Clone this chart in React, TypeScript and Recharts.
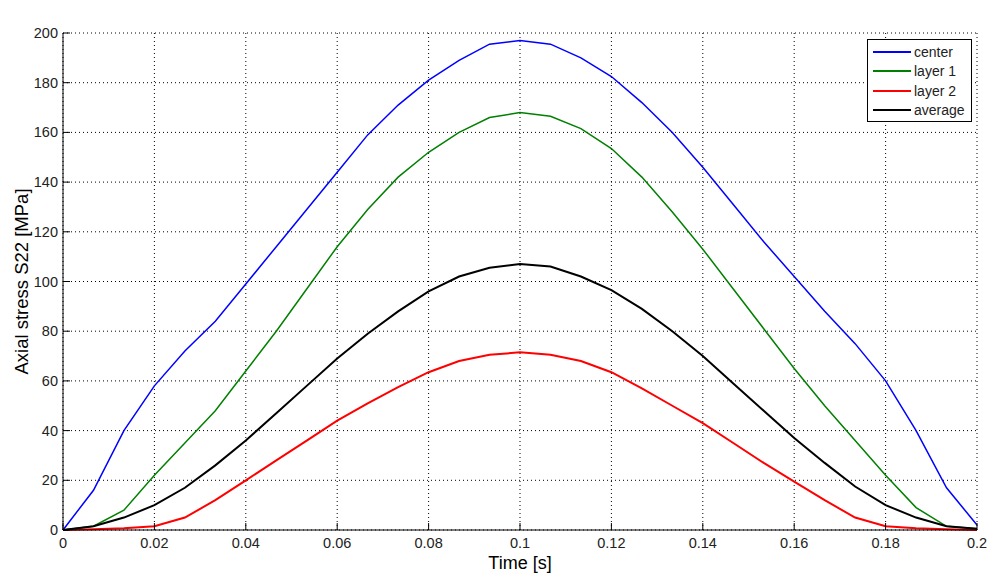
import React from 'react';
import { LineChart, Line, XAxis, YAxis, CartesianGrid, Label } from 'recharts';

const time = [0, 0.00667, 0.01333, 0.02, 0.02667, 0.03333, 0.04, 0.04667, 0.05333, 0.06, 0.06667, 0.07333, 0.08, 0.08667, 0.09333, 0.1, 0.10667, 0.11333, 0.12, 0.12667, 0.13333, 0.14, 0.14667, 0.15333, 0.16, 0.16667, 0.17333, 0.18, 0.18667, 0.19333, 0.2];
const center = [0, 16, 40, 58, 72, 84, 99, 114, 129, 144, 159, 171, 181, 189, 195.5, 197, 195.5, 190, 182.5, 172, 160, 146, 131, 116, 102, 88, 75, 60, 40, 17, 2];
const layer1 = [0, 1.5, 8, 22, 35, 48, 64, 80, 97, 114, 129, 142, 152, 160, 166, 168, 166.5, 161.5, 153.5, 142, 128, 113, 97, 81, 65, 50, 36, 22, 9, 1.5, 0.5];
const layer2 = [0, 0.3, 0.7, 1.5, 5, 12, 20, 28, 36, 44, 51, 57.5, 63.5, 68, 70.5, 71.5, 70.5, 68, 63.5, 57, 50, 43, 35, 27, 19.5, 12, 5, 1.5, 0.7, 0.3, 0];
const average = [0, 1.5, 5, 10, 17, 26, 36, 47, 58, 69, 79, 88, 96, 102, 105.5, 107, 106, 102, 96.5, 89, 80, 70, 59, 48, 37, 27, 17.5, 10, 5, 1.5, 0.5];

const xTicks = [0, 0.02, 0.04, 0.06, 0.08, 0.1, 0.12, 0.14, 0.16, 0.18, 0.2];
const yTicks = [0, 20, 40, 60, 80, 100, 120, 140, 160, 180, 200];

const seriesNames = ['center', 'layer 1', 'layer 2', 'average'];
const seriesColors = ['#0000ff', '#008000', '#ff0000', '#000000'];
const seriesWidths = [1.5, 1.5, 2, 2];
const seriesKeys = ['center', 'layer1', 'layer2', 'average'];

const data = time.map((t, i) => ({
  t,
  center: center[i],
  layer1: layer1[i],
  layer2: layer2[i],
  average: average[i],
}));

const FONT = '"Liberation Sans", Arial, Helvetica, sans-serif';
const TICK_LEN = 7;
const TM = 5;

const XTick = (props: any) => {
  const { x, y, payload } = props;
  const axisY = y - TM;
  return (
    <g>
      <line x1={x} x2={x} y1={axisY} y2={axisY - TICK_LEN} stroke="#000" strokeWidth={1} />
      <text x={x} y={y} dy={13} textAnchor="middle" fontSize={14.5} fill="#222" fontFamily={FONT}>
        {String(payload.value)}
      </text>
    </g>
  );
};

const YTick = (props: any) => {
  const { x, y, payload } = props;
  const axisX = x + TM;
  return (
    <g>
      <line x1={axisX} x2={axisX + TICK_LEN} y1={y} y2={y} stroke="#000" strokeWidth={1} />
      <text x={x} y={y} dy={5} textAnchor="end" fontSize={14.5} fill="#222" fontFamily={FONT}>
        {String(payload.value)}
      </text>
    </g>
  );
};

const LegendBox = () => (
  <div
    style={{
      position: 'absolute',
      left: 867,
      top: 39,
      width: 105,
      height: 83,
      boxSizing: 'border-box',
      border: '1px solid #000',
      background: '#fff',
      padding: '2px 0 0 5px',
      fontFamily: FONT,
      fontSize: 14,
      color: '#222',
    }}
  >
    {seriesNames.map((n, i) => (
      <div key={n} style={{ display: 'flex', alignItems: 'center', height: 19.5 }}>
        <span
          style={{
            display: 'inline-block',
            width: 38,
            height: 0,
            borderTop: `2px solid ${seriesColors[i]}`,
            marginRight: 3,
          }}
        />
        <span>{n}</span>
      </div>
    ))}
  </div>
);

export default function App() {
  return (
    <div style={{ position: 'absolute', left: 0, top: 0, width: 987, height: 574, background: '#fff' }}>
      <LineChart
        width={987}
        height={574}
        data={data}
        margin={{ top: 33, right: 10, bottom: 0, left: 0 }}
        style={{ fontFamily: FONT }}
      >
        <CartesianGrid stroke="#000" strokeDasharray="1 3" strokeWidth={1} horizontalValues={yTicks} verticalValues={xTicks} />
        <XAxis
          dataKey="t"
          type="number"
          domain={[0, 0.2]}
          ticks={xTicks}
          interval={0}
          height={44}
          tickLine={false}
          tickSize={0}
          tickMargin={TM}
          tick={<XTick />}
          axisLine={{ stroke: '#000', strokeWidth: 1 }}
        >
          <Label value="Time [s]" position="insideBottom" offset={5} style={{ fontSize: 18, fill: '#000', fontFamily: FONT }} />
        </XAxis>
        <XAxis
          xAxisId="top"
          dataKey="t"
          type="number"
          orientation="top"
          domain={[0, 0.2]}
          ticks={xTicks}
          interval={0}
          mirror
          height={0}
          tickSize={TICK_LEN}
          tickFormatter={() => ''}
          tickLine={{ stroke: '#000' }}
          axisLine={{ stroke: '#000', strokeWidth: 1 }}
        >
          <Label value="Axial stress" position="top" offset={11} style={{ fontSize: 17, fill: '#000', fontFamily: FONT }} />
        </XAxis>
        <YAxis
          type="number"
          domain={[0, 200]}
          ticks={yTicks}
          interval={0}
          width={63}
          tickLine={false}
          tickSize={0}
          tickMargin={TM}
          tick={<YTick />}
          axisLine={{ stroke: '#000', strokeWidth: 1 }}
        >
          <Label
            value="Axial stress S22 [MPa]"
            angle={-90}
            position="insideLeft"
            offset={21}
            style={{ fontSize: 18.5, fill: '#000', fontFamily: FONT, textAnchor: 'middle' }}
          />
        </YAxis>
        <YAxis
          yAxisId="right"
          type="number"
          orientation="right"
          domain={[0, 200]}
          ticks={yTicks}
          interval={0}
          mirror
          width={0}
          tickSize={TICK_LEN}
          tickFormatter={() => ''}
          tickLine={{ stroke: '#000' }}
          axisLine={{ stroke: '#000', strokeWidth: 1 }}
        />
        {seriesKeys.map((k, i) => (
          <Line
            key={k}
            type="linear"
            dataKey={k}
            name={seriesNames[i]}
            stroke={seriesColors[i]}
            strokeWidth={seriesWidths[i]}
            dot={false}
            activeDot={false}
            isAnimationActive={false}
          />
        ))}
      </LineChart>
      <LegendBox />
    </div>
  );
}
